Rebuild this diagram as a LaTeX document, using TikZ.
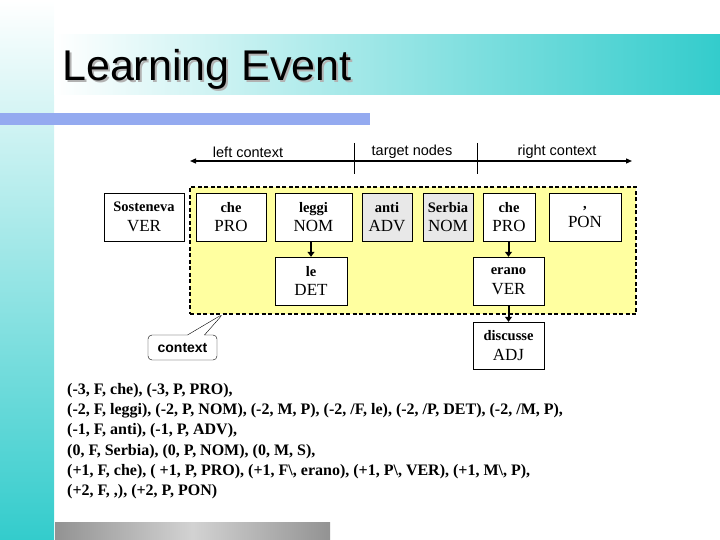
\documentclass[tikz,border=0pt]{standalone}
\usepackage{fontspec}
\setmainfont{Liberation Serif}
\newfontfamily\arialfont{Liberation Sans}
\usepackage{tikz}
\usetikzlibrary{positioning,arrows.meta,shapes,shapes.callouts}
\definecolor{tealband}{RGB}{51,204,204}
\definecolor{bluebar}{RGB}{148,170,240}
\definecolor{ctxyellow}{RGB}{255,255,160}
\definecolor{targetgray}{RGB}{232,232,232}
\newcommand{\forma}[1]{{\bfseries\fontsize{14.5}{16}\selectfont #1}}
\tikzset{
  word/.style={
    rectangle, draw=black, fill=white,
    minimum height=48pt,
    inner sep=0pt,
    align=center,
    font=\fontsize{17}{19.5}\selectfont
  },
  % nodi target in grigio
  targetword/.style={word, fill=targetgray},
  link/.style={-{Triangle[length=5pt,width=7pt]}, line width=2pt},
  axis/.style={{Triangle[length=6pt,width=5pt]}-{Triangle[length=6pt,width=5pt]}, line width=1.3pt},
  tick/.style={line width=0.8pt},
  ctxregion/.style={rectangle, draw=black, fill=ctxyellow, dash pattern=on 4pt off 2.5pt, line width=1.6pt},
  axislabel/.style={font=\arialfont\fontsize{14.5}{16}\selectfont},
  bubble/.style={
    rectangle callout, rounded corners=4pt, draw=black, fill=white,
    font=\arialfont\bfseries\fontsize{14}{16}\selectfont,
    minimum width=69pt, minimum height=25pt,
    callout pointer width=17pt
  }
}

\begin{document}
\begin{tikzpicture}[x=1pt, y=1pt]

\useasboundingbox (0,0) rectangle (720,-540);

% Sfondo della slide
\shade[top color=white, bottom color=tealband] (0,0) rectangle (54,-540);
\shade[left color=white, right color=tealband] (54,-35) rectangle (720,-95);
\fill[bluebar] (0,-113) rectangle (370,-125);
\shade[left color=gray!85, right color=gray!85, middle color=gray!35] (55,-522) rectangle (330,-540);

% Titolo con ombra
\node[anchor=base west, inner sep=0pt, font=\arialfont\fontsize{43}{50}\selectfont] (title) at (62,-81)
  {\rlap{\hspace{2pt}\raisebox{-2pt}{\color{gray!60}Learning Event}}Learning Event};

% Asse dei contesti
\coordinate (axisL) at (190,-161);
\coordinate (axisR) at (632,-161);
\coordinate (tickAtop) at (354,-143);
\coordinate (tickAbot) at (354,-174);
\coordinate (tickBtop) at (477,-143);
\coordinate (tickBbot) at (477,-174);
\draw[axis] (axisL) -- (axisR);
\draw[tick] (tickAtop) -- (tickAbot);
\draw[tick] (tickBtop) -- (tickBbot);
\node[axislabel] (leftctx) at (248,-152) {left context};
\node[axislabel] (targetlbl) at (412,-152) {target nodes};
\node[axislabel] (rightctx) at (557,-152) {right context};

% Regione del contesto (tratteggiata)
\node[ctxregion, minimum width=446pt, minimum height=127pt] (ctxbox) at (413,-250.5) {};

% Livello superiore - sequenza di parole
\node[word, minimum width=80pt] (sosteneva) at (144,-217) {\forma{Sosteneva}\\VER};
\node[word, minimum width=70pt] (che1) at (231,-217) {\forma{che}\\PRO};
\node[word, minimum width=77pt] (leggi) at (313.5,-217) {\forma{leggi}\\NOM};
\node[targetword, minimum width=50pt] (anti) at (387,-217) {\forma{anti}\\ADV};
\node[targetword, minimum width=50pt] (serbia) at (448,-217) {\forma{Serbia}\\NOM};
\node[word, minimum width=52pt] (che2) at (509,-217) {\forma{che}\\PRO};
\node[word, minimum width=72pt] (pon) at (585,-217) {\forma{,}\\PON};

% Livello secondo - dipendenti
\node[word, minimum width=72pt] (le) at (311,-281) {\forma{le}\\DET};
\node[word, minimum width=71pt] (erano) at (508.5,-281) {\forma{erano}\\VER};

% Livello terzo - fuori dal contesto
\node[word, minimum width=71pt, minimum height=47pt] (discusse) at (508.5,-345.5) {\forma{discusse}\\ADJ};

% Relazioni
\draw[link] (le.north |- leggi.south) -- (le.north);
\draw[link] (erano.north |- che2.south) -- (erano.north);
\draw[link] (erano.south) -- (discusse.north);

% Fumetto del contesto
\coordinate (ctxtip) at (223,-314);
\node[bubble, callout absolute pointer={(ctxtip)}] (ctxcallout) at (182.5,-347.5) {context};

% Feature estratte
\node[anchor=north west, inner sep=0pt, align=left, font=\bfseries\fontsize{16}{20.3}\selectfont] (features) at (67,-383) {
  (-3, F, che), (-3, P, PRO),\\
  (-2, F, leggi), (-2, P, NOM), (-2, M, P), (-2, /F, le), (-2, /P, DET), (-2, /M, P),\\
  (-1, F, anti), (-1, P, ADV),\\
  (0, F, Serbia), (0, P, NOM), (0, M, S),\\
  (+1, F, che), ( +1, P, PRO), (+1, F\textbackslash, erano), (+1, P\textbackslash, VER), (+1, M\textbackslash, P),\\
  (+2, F, ,), (+2, P, PON)
};

\end{tikzpicture}
\end{document}
